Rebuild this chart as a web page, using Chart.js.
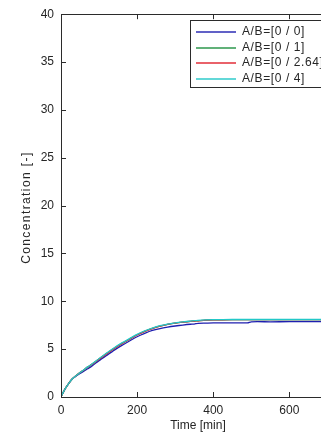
<!DOCTYPE html>
<html>
<head>
<meta charset="utf-8">
<script src="https://cdn.jsdelivr.net/npm/chart.js@4.4.0/dist/chart.umd.min.js"></script>
<style>
  html, body { margin: 0; padding: 0; background: #fff; overflow: hidden; }
  #wrap { width: 321px; height: 435px; overflow: hidden; }
  canvas { display: block; }
</style>
</head>
<body>
<div id="wrap"><canvas id="chart" width="345" height="435"></canvas></div>
<script>
// time axis (min)
const timeMin = [0, 10, 20, 30, 40, 50, 60, 70, 80, 100, 120, 140, 160, 180, 200, 220, 240, 260, 280, 300,
  320, 340, 350, 360, 380, 400, 450, 490, 500, 550, 600, 650, 700, 720];

const seriesLabels = ['A/B=[0 / 0]', 'A/B=[0 / 1]', 'A/B=[0 / 2.64]', 'A/B=[0 / 4]'];
const seriesColors = ['#1f1fb0', '#1f9040', '#e0202c', '#22c8c8'];

const conc00 = [0, 0.8, 1.4, 1.9, 2.2, 2.45, 2.7, 2.95, 3.2, 3.8, 4.35, 4.9, 5.4, 5.85, 6.3, 6.65, 6.95, 7.15, 7.3, 7.42,
  7.52, 7.6, 7.62, 7.7, 7.72, 7.74, 7.75, 7.75, 7.86, 7.86, 7.87, 7.87, 7.87, 7.87];
const conc01 = [0, 0.8, 1.4, 1.9, 2.25, 2.55, 2.83, 3.12, 3.38, 3.97, 4.55, 5.1, 5.6, 6.05, 6.5, 6.86, 7.16, 7.4, 7.58, 7.72,
  7.82, 7.9, 7.94, 7.97, 8.03, 8.06, 8.08, 8.08, 8.08, 8.08, 8.08, 8.08, 8.08, 8.08];
const conc0264 = [0, 0.8, 1.4, 1.9, 2.25, 2.55, 2.83, 3.12, 3.38, 3.96, 4.53, 5.08, 5.58, 6.04, 6.48, 6.85, 7.15, 7.4, 7.58, 7.72,
  7.82, 7.9, 7.94, 7.97, 8.03, 8.06, 8.08, 8.08, 8.08, 8.08, 8.08, 8.08, 8.08, 8.08];
const conc04 = [0, 0.8, 1.4, 1.9, 2.25, 2.55, 2.85, 3.15, 3.4, 4.0, 4.6, 5.15, 5.65, 6.1, 6.55, 6.9, 7.2, 7.45, 7.62, 7.75,
  7.85, 7.93, 7.97, 8.0, 8.05, 8.08, 8.1, 8.1, 8.1, 8.1, 8.1, 8.1, 8.1, 8.1];

const xTicks = [0, 200, 400, 600];
const yTicks = [0, 5, 10, 15, 20, 25, 30, 35, 40];
const yTitle = 'Concentration [-]';

const allSeries = [conc00, conc01, conc0264, conc04];
const FONT = '"Liberation Sans", Arial, sans-serif';
const AXIS_COLOR = '#2b2b2b';
const TEXT_COLOR = '#262626';

// MATLAB-like box with inward ticks
const frame = {
  id: 'frame',
  afterDatasetsDraw(chart) {
    const { ctx, chartArea: a, scales } = chart;
    ctx.save();
    ctx.strokeStyle = AXIS_COLOR;
    ctx.lineWidth = 1;
    ctx.beginPath();
    ctx.rect(Math.round(a.left) + 0.5, Math.round(a.top) + 0.5, Math.round(a.right - a.left), Math.round(a.bottom - a.top));
    scales.x.ticks.forEach(t => {
      const px = Math.round(scales.x.getPixelForValue(t.value)) + 0.5;
      ctx.moveTo(px, a.bottom); ctx.lineTo(px, a.bottom - 5);
      ctx.moveTo(px, a.top); ctx.lineTo(px, a.top + 5);
    });
    scales.y.ticks.forEach(t => {
      const py = Math.round(scales.y.getPixelForValue(t.value)) + 0.5;
      ctx.moveTo(a.left, py); ctx.lineTo(a.left + 5, py);
      ctx.moveTo(a.right, py); ctx.lineTo(a.right - 5, py);
    });
    ctx.stroke();
    ctx.restore();
  }
};

// y title drawn by hand so it can get the wide MATLAB letter spacing
const yTitlePlugin = {
  id: 'yTitlePlugin',
  afterDraw(chart) {
    const { ctx, chartArea: a } = chart;
    ctx.save();
    ctx.translate(27, (a.top + a.bottom) / 2 + 2);
    ctx.rotate(-Math.PI / 2);
    ctx.font = '12px ' + FONT;
    ctx.letterSpacing = '1.4px';
    ctx.fillStyle = TEXT_COLOR;
    ctx.textAlign = 'center';
    ctx.textBaseline = 'middle';
    ctx.fillText(yTitle, 0, 0);
    ctx.restore();
  }
};

// legend box inside the axes, top right
const boxLegend = {
  id: 'boxLegend',
  afterDraw(chart) {
    const { ctx } = chart;
    const x0 = 190, y0 = 20, w = 150, rowH = 15.5;
    const h = rowH * seriesLabels.length + 5;
    ctx.save();
    ctx.fillStyle = '#fff';
    ctx.fillRect(x0, y0, w, h);
    ctx.strokeStyle = AXIS_COLOR;
    ctx.lineWidth = 1;
    ctx.strokeRect(x0 + 0.5, y0 + 0.5, w, h);
    ctx.font = '12px ' + FONT;
    ctx.letterSpacing = '0.6px';
    ctx.textBaseline = 'middle';
    seriesLabels.forEach((label, i) => {
      const yy = Math.round(y0 + 12 + i * rowH);
      ctx.fillStyle = seriesColors[i];
      ctx.fillRect(x0 + 6, yy - 0.7, 40, 1.4);
      ctx.fillStyle = TEXT_COLOR;
      ctx.fillText(label, x0 + 52, yy);
    });
    ctx.restore();
  }
};

new Chart(document.getElementById('chart'), {
  type: 'line',
  data: {
    labels: timeMin,
    datasets: allSeries.map((vals, i) => ({
      label: seriesLabels[i],
      data: timeMin.map((t, j) => ({ x: t, y: vals[j] })),
      borderColor: seriesColors[i],
      borderWidth: 1.3,
      pointRadius: 0,
      tension: 0.25,
      fill: false,
      order: allSeries.length - 1 - i // last series drawn on top, like MATLAB
    }))
  },
  options: {
    responsive: false,
    animation: false,
    devicePixelRatio: 1,
    layout: { padding: { top: 13, right: 10, left: 0, bottom: 0 } },
    plugins: {
      legend: { display: false },
      tooltip: { enabled: false }
    },
    scales: {
      x: {
        type: 'linear',
        min: 0,
        max: 720,
        grid: { display: false, drawTicks: false },
        border: { display: false },
        afterBuildTicks: (s) => { s.ticks = xTicks.map(v => ({ value: v })); },
        afterFit: (s) => { s.height = 38; },
        ticks: { color: TEXT_COLOR, padding: 6, font: { family: FONT, size: 12 }, maxRotation: 0 },
        title: { display: true, text: 'Time [min]', color: TEXT_COLOR, padding: { top: 0, bottom: 2 }, font: { family: FONT, size: 12 } }
      },
      y: {
        min: 0,
        max: 40,
        grid: { display: false, drawTicks: false },
        border: { display: false },
        afterBuildTicks: (s) => { s.ticks = yTicks.map(v => ({ value: v })); },
        afterFit: (s) => { s.width = 61; },
        ticks: { color: TEXT_COLOR, padding: 7, font: { family: FONT, size: 12 } },
        title: { display: false }
      }
    }
  },
  plugins: [frame, yTitlePlugin, boxLegend]
});
</script>
</body>
</html>
